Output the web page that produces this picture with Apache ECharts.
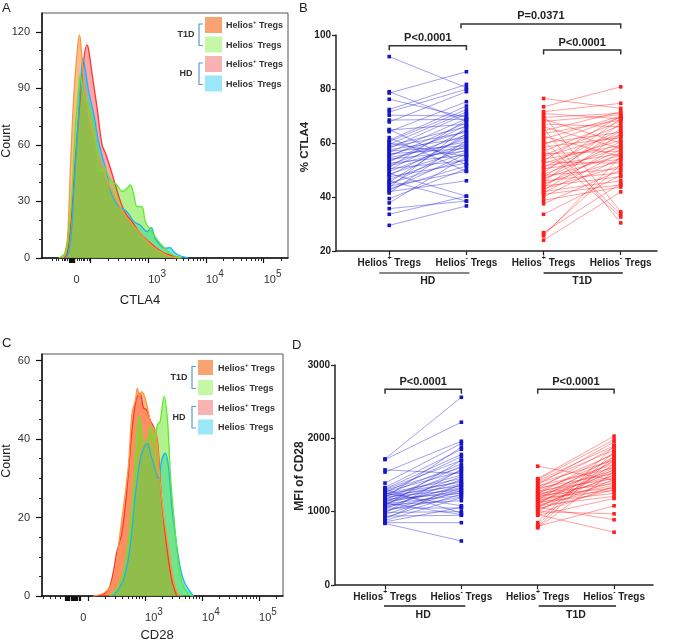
<!DOCTYPE html>
<html><head><meta charset="utf-8">
<script src="https://cdn.jsdelivr.net/npm/echarts@6/dist/echarts.min.js"></script>
<style>html,body{margin:0;padding:0;background:#fff}#c{width:674px;height:642px}</style>
</head><body><div id="c"></div>
<script>
// ---------------- DATA ----------------
// Panel A histograms (CTLA4): [biexponential axis position, count]
const ctlaHDPos = [[1.55,0],[1.60,3],[1.655,17],[1.74,53],[1.83,88],[1.885,106],[1.94,113.1],[1.97,110],[2.03,97],[2.115,79.5],[2.20,60],[2.26,55.6],[2.345,47.6],[2.43,38.8],[2.52,29.9],[2.62,23],[2.72,19.3],[2.86,13],[3.01,8.7],[3.15,5],[3.29,2.5],[3.45,0.8],[3.58,0]];
const ctlaHDNeg = [[1.58,0],[1.63,4],[1.68,17],[1.71,35.2],[1.76,60],[1.80,79.5],[1.84,98],[1.87,106],[1.91,100],[1.97,88.3],[2.06,75.9],[2.14,61.8],[2.26,47.6],[2.37,33.5],[2.49,27.3],[2.63,24.6],[2.75,19.3],[2.86,17.5],[2.98,14.0],[3.05,16.1],[3.12,10.4],[3.20,7],[3.29,5.1],[3.38,5.5],[3.45,3],[3.52,1.6],[3.69,0]];
const ctlaT1DPos = [[1.50,0],[1.54,1],[1.60,10],[1.655,50],[1.71,86],[1.77,110],[1.81,118.4],[1.85,107],[1.88,95],[1.94,84],[1.97,76],[2.03,68],[2.14,55],[2.23,46],[2.32,39],[2.43,32],[2.55,25],[2.69,19],[2.83,14],[2.98,9],[3.12,5],[3.29,2],[3.41,0.5],[3.55,0]];
const ctlaT1DNeg = [[1.45,0],[1.57,3],[1.63,15],[1.68,35.2],[1.74,70.6],[1.79,88.3],[1.82,97.2],[1.85,92],[1.87,88],[1.91,83.9],[1.94,83],[2.03,74.2],[2.115,56.5],[2.17,45.8],[2.23,48.5],[2.29,45],[2.37,40.5],[2.46,38.8],[2.55,35.2],[2.63,37],[2.69,38.8],[2.75,33.5],[2.805,27.3],[2.89,27.3],[2.95,19.3],[3.06,14.0],[3.18,8.7],[3.35,3.4],[3.45,1.2],[3.58,0]];
// Panel C histograms (CD28)
const cd28HDPos = [[2.2,0],[2.35,1.5],[2.44,6],[2.50,11],[2.59,16],[2.68,27],[2.77,42.3],[2.842,50.0],[2.91,51.7],[2.97,48],[3.03,47.4],[3.088,44.9],[3.175,42.3],[3.222,38.9],[3.29,24.5],[3.38,12.6],[3.468,4.1],[3.556,0]];
const cd28HDNeg = [[2.44,0],[2.62,4.1],[2.737,12.6],[2.825,25.3],[2.912,34.7],[2.97,37.5],[3.04,38.9],[3.10,36],[3.146,33.8],[3.234,30.0],[3.292,34.7],[3.351,36.4],[3.409,33.0],[3.468,22.8],[3.526,16.0],[3.614,7.5],[3.70,3.2],[3.85,0]];
const cd28T1DPos = [[2.09,0],[2.27,0.7],[2.39,2.4],[2.47,5.8],[2.56,16],[2.65,26],[2.71,33.8],[2.77,46.6],[2.83,50],[2.865,53.0],[2.90,51],[2.94,52.1],[3.0,50.4],[3.06,46.6],[3.12,43.2],[3.175,42.3],[3.22,38],[3.26,29.6],[3.32,21.1],[3.38,15.1],[3.44,9],[3.50,4],[3.56,1],[3.62,0]];
const cd28T1DNeg = [[2.386,0],[2.53,2.4],[2.65,8.3],[2.77,22.8],[2.825,33.8],[2.895,45.7],[2.94,42],[2.97,39.4],[3.03,39.4],[3.10,43.2],[3.158,39.4],[3.216,43.6],[3.263,44.5],[3.333,50.9],[3.392,44.9],[3.45,29.6],[3.526,16.8],[3.585,8.3],[3.672,2.4],[3.789,0.25],[3.85,0]];

// Paired data: [Helios+ Tregs, Helios- Tregs]
const ctla4HD = [[92.0,80.5],[79.0,68.0],[78.5,86.4],[76.2,69.5],[72.4,81.7],[71.5,79.9],[70.3,70.0],[68.5,68.8],[67.8,79.0],[64.8,67.0],[64.2,75.3],[62.0,49.5],[61.0,73.7],[60.5,72.4],[60.0,55.0],[59.5,71.5],[59.0,66.0],[58.5,64.0],[58.0,70.8],[57.5,62.0],[57.0,59.0],[56.5,69.0],[56.0,58.0],[55.5,64.5],[55.0,67.5],[54.5,60.5],[54.0,57.0],[53.5,63.0],[53.0,66.5],[52.5,55.5],[52.0,61.5],[51.5,58.5],[51.0,68.5],[50.5,53.5],[50.0,65.0],[49.5,60.0],[48.8,40.3],[48.5,57.5],[48.0,62.5],[47.5,52.5],[46.5,56.5],[46.0,38.5],[45.5,63.5],[45.0,54.0],[44.5,59.5],[44.0,49.5],[43.5,66.0],[43.0,51.5],[42.5,56.0],[42.0,46.0],[41.5,61.0],[39.4,50.5],[37.8,55.0],[35.7,38.5],[33.6,40.3],[29.5,36.7],[65.0,52.0]];
const ctla4T1D = [[76.5,72.8],[73.4,80.8],[71.6,74.7],[70.9,69.0],[70.3,34.5],[69.5,71.0],[68.8,60.0],[68.0,70.5],[67.0,66.0],[66.0,58.0],[65.5,30.4],[64.5,71.6],[63.5,68.5],[62.5,55.0],[61.5,70.0],[61.0,33.6],[60.0,64.0],[59.5,69.5],[58.5,62.0],[58.0,32.6],[57.0,68.0],[56.0,57.0],[55.5,66.5],[55.0,63.0],[54.0,59.0],[53.5,70.0],[53.0,52.5],[52.5,61.0],[51.5,56.0],[51.0,65.0],[50.5,54.0],[50.0,62.5],[49.0,69.0],[48.5,58.5],[48.0,50.5],[47.5,64.5],[47.0,55.5],[46.5,60.5],[46.0,49.0],[45.5,67.5],[45.0,53.5],[44.5,57.5],[44.0,47.5],[43.5,63.5],[43.0,51.5],[42.5,59.5],[42.0,46.0],[41.5,56.5],[41.0,44.5],[40.0,54.5],[38.8,43.7],[37.5,50.0],[33.6,48.0],[26.8,45.0],[26.2,52.0],[25.6,55.0],[24.0,41.9]];
const cd28HD = [[1720,2560],[1710,2220],[1570,1520],[1540,1960],[1390,1930],[1330,1850],[1310,1780],[1300,1700],[1290,1600],[1270,1550],[1260,1750],[1250,1450],[1240,1400],[1230,1650],[1220,1350],[1210,1500],[1200,1300],[1190,1880],[1180,1420],[1170,1250],[1160,1620],[1150,1380],[1140,1280],[1130,1560],[1120,1330],[1110,1220],[1100,1480],[1090,1150],[1080,1700],[1070,1360],[1060,1260],[1050,1050],[1040,1440],[1020,1200],[1000,1320],[990,1000],[980,1580],[960,1290],[940,950],[920,1240],[900,1380],[880,1190],[860,1060],[850,850],[840,600],[1300,980],[1250,1080],[1120,960]];
const cd28T1D = [[1620,1430],[1450,2030],[1440,1980],[1420,1900],[1400,1840],[1390,1700],[1370,1950],[1350,1600],[1340,1780],[1320,1520],[1310,1880],[1300,1650],[1280,1450],[1270,1720],[1260,1560],[1250,1380],[1240,1800],[1230,1490],[1220,1320],[1210,1680],[1200,1420],[1190,1620],[1180,1290],[1170,1540],[1160,1750],[1150,1360],[1140,1470],[1130,1250],[1120,1600],[1110,1400],[1100,1700],[1090,1330],[1080,1210],[1070,1500],[1060,890],[1050,1580],[1040,1300],[1020,1440],[1000,970],[990,1650],[970,1350],[960,720],[950,1180],[850,1900],[820,1820],[800,1080],[790,1760],[780,1550]];

// Text / tick labels
const groups = ['HD', 'T1D'];
const cellTypes = ['Helios+ Tregs', 'Helios- Tregs'];
const legendRows = ['Helios+ Tregs', 'Helios- Tregs', 'Helios+ Tregs', 'Helios- Tregs'];
const legendGroups = ['T1D', 'HD'];
const flowTickLabels = ['0', '10^3', '10^4', '10^5'];
const countTicksA = [0, 30, 60, 90, 120];
const countTicksC = [0, 20, 40, 60];
const ctla4Tests = ['P<0.0001', 'P<0.0001', 'P=0.0371'];
const cd28Tests = ['P<0.0001', 'P<0.0001'];

// ---------------- CHART ----------------
const FONT = "'Liberation Sans', Arial, Helvetica, sans-serif";
const chart = echarts.init(document.getElementById('c'), null, {renderer: 'canvas'});

const histColors = {
  hdPos:  {line: '#FF3535', fill: 'rgba(255,80,80,0.5)'},
  hdNeg:  {line: '#1EB4F2', fill: 'rgba(0,200,255,0.5)'},
  t1dPos: {line: '#F59A40', fill: 'rgba(255,120,30,0.5)'},
  t1dNeg: {line: '#5CEB2A', fill: 'rgba(100,230,30,0.5)'}
};
const legendBoxColors = ['#F9A272', '#C4F7A6', '#F9B2B2', '#9CE6FA'];

function histSeries(data, xi, yi, c) {
  return {type: 'line', xAxisIndex: xi, yAxisIndex: yi, data: data, smooth: 0.35, symbol: 'none',
    lineStyle: {color: c.line, width: 1.3}, areaStyle: {color: c.fill, opacity: 1},
    itemStyle: {color: c.line}, silent: true, z: 2};
}

function logMinor(from, to) {
  const out = [];
  for (let d = from; d < to; d++) for (let k = 2; k <= 9; k++) out.push(d + Math.log10(k));
  return out;
}
const majorTicksA = [1.64,1.65,1.66,1.67,1.68,1.69,1.70,1.71,1.72, 2, 3, 4, 5];
const minorTicksA = [1.34,1.40,1.45,1.51,1.54,1.57,1.60,1.77,1.81,1.84,1.87,1.90,1.94,1.97].concat(logMinor(2,5)).concat([5.30]);
const majorTicksC = [1.60,1.61,1.62,1.63,1.64,1.65,1.66,1.70,1.71,1.72,1.73,1.76,1.77,1.78,1.79,1.80,1.84,1.85,1.86, 2, 3, 4, 5];
const minorTicksC = [1.21,1.33,1.42,1.51].concat(logMinor(2,5)).concat([5.30]);
const labelPosA = [1.707, 3, 4, 5];
const labelPosC = [1.86, 3, 4, 5];

function flowFormatter(pos) {
  return function (v) {
    let best = 0;
    pos.forEach((p, i) => { if (Math.abs(p - v) < Math.abs(pos[best] - v)) best = i; });
    const s = flowTickLabels[best];
    if (s.indexOf('^') < 0) return '{n|' + s + '}';
    const parts = s.split('^');
    return '{n|' + parts[0] + '}{e|' + parts[1] + '}';
  };
}
const flowRich = {
  n: {fontSize: 11, color: '#333', fontFamily: FONT, lineHeight: 16, verticalAlign: 'bottom'},
  e: {fontSize: 10, color: '#333', fontFamily: FONT, lineHeight: 10, verticalAlign: 'top'}
};
function supText(s) {
  const m = s.match(/^(\S+?)([+-])(.*)$/);
  return '{a|' + m[1] + '}{s|' + m[2] + '}{a|' + m[3] + '}';
}
const catRich = {
  a: {fontSize: 10, fontWeight: 'bold', color: '#222', fontFamily: FONT, lineHeight: 13, verticalAlign: 'bottom'},
  s: {fontSize: 7, fontWeight: 'bold', color: '#222', fontFamily: FONT, lineHeight: 7, verticalAlign: 'top'}
};

function flowXAxis(grid, min, max, major, labelPos) {
  return {gridIndex: grid, type: 'value', position: 'bottom', min: min, max: max,
    axisLine: {show: true, onZero: false, lineStyle: {color: '#111', width: 1.5}},
    axisTick: {show: true, customValues: major, length: 5, lineStyle: {color: '#111', width: 1.2}},
    axisLabel: {show: true, customValues: labelPos, formatter: flowFormatter(labelPos), align: 'left', margin: 11, rich: flowRich},
    splitLine: {show: false}};
}
function minorXAxis(grid, min, max, minor) {
  return {gridIndex: grid, type: 'value', position: 'bottom', min: min, max: max,
    axisLine: {show: false},
    axisTick: {show: true, customValues: minor, length: 3, lineStyle: {color: '#222', width: 1}},
    axisLabel: {show: false}, splitLine: {show: false}};
}
function countYAxis(grid, max, major) {
  return {gridIndex: grid, type: 'value', position: 'left', min: 0, max: max,
    axisLine: {show: true, onZero: false, lineStyle: {color: '#111', width: 1.5}},
    axisTick: {show: true, customValues: major, length: 6, lineStyle: {color: '#111', width: 1.2}},
    axisLabel: {show: true, customValues: major, fontSize: 11, color: '#333', fontFamily: FONT, margin: 12},
    splitLine: {show: false}};
}
function minorYAxis(grid, max, major, step) {
  const minor = [];
  for (let v = step; v < max; v += step) if (major.indexOf(v) < 0) minor.push(v);
  return {gridIndex: grid, type: 'value', position: 'left', min: 0, max: max,
    axisLine: {show: false},
    axisTick: {show: true, customValues: minor, length: 3, lineStyle: {color: '#222', width: 1}},
    axisLabel: {show: false}, splitLine: {show: false}};
}
function pairXAxis(grid, min, max) {
  return {gridIndex: grid, type: 'value', position: 'bottom', min: min, max: max,
    axisLine: {show: true, onZero: false, lineStyle: {color: '#222', width: 1.5}},
    axisTick: {show: true, customValues: [1, 2, 3, 4], length: 4, lineStyle: {color: '#222', width: 1.2}},
    axisLabel: {show: true, customValues: [1, 2, 3, 4], margin: 4, rich: catRich,
      formatter: function (v) { return supText(cellTypes[(Math.round(v) - 1) % 2]); }},
    splitLine: {show: false}};
}
function pairYAxis(grid, min, max, interval) {
  return {gridIndex: grid, type: 'value', position: 'left', min: min, max: max, interval: interval,
    axisLine: {show: true, onZero: false, lineStyle: {color: '#222', width: 1.5}},
    axisTick: {show: true, length: 4, lineStyle: {color: '#222', width: 1.2}},
    axisLabel: {fontSize: 10, fontWeight: 'bold', color: '#222', fontFamily: FONT, margin: 5,
      formatter: function (v) { return String(v); }},
    splitLine: {show: false}};
}

function pairLineSeries(pairs, xi, yi, x1, x2, color) {
  return {type: 'custom', xAxisIndex: xi, yAxisIndex: yi, silent: true, z: 3,
    data: pairs.map(p => [x1, x2, p[0], p[1]]),
    encode: {x: [0, 1], y: [2, 3]},
    renderItem: function (params, api) {
      const a = api.coord([api.value(0), api.value(2)]);
      const b = api.coord([api.value(1), api.value(3)]);
      return {type: 'line', shape: {x1: a[0], y1: a[1], x2: b[0], y2: b[1]},
        style: {stroke: color, lineWidth: 0.8, fill: 'none'}};
    }};
}
function pairPointSeries(pairs, xi, yi, x1, x2, color) {
  const data = [];
  pairs.forEach(p => { data.push([x1, p[0]]); data.push([x2, p[1]]); });
  return {type: 'scatter', xAxisIndex: xi, yAxisIndex: yi, silent: true, z: 4,
    data: data, symbol: 'rect', symbolSize: 3.6, itemStyle: {color: color, opacity: 1}};
}
function bracketSeries(items, labels, xi, yi) {
  return {type: 'custom', xAxisIndex: xi, yAxisIndex: yi, silent: true, clip: false, z: 5,
    data: items, encode: {x: [0, 1], y: 2},
    renderItem: function (params, api) {
      const a = api.coord([api.value(0), api.value(2)]);
      const b = api.coord([api.value(1), api.value(2)]);
      return {type: 'group', children: [
        {type: 'polyline', shape: {points: [[a[0], a[1] + 4.5], [a[0], a[1]], [b[0], b[1]], [b[0], b[1] + 4.5]]},
          style: {stroke: '#333', lineWidth: 1.5, fill: 'none'}},
        {type: 'text', x: (a[0] + b[0]) / 2, y: a[1] - 7.5,
          style: {text: labels[api.value(3)], font: 'bold 11px ' + FONT, fill: '#222', align: 'center', verticalAlign: 'middle'}}
      ]};
    }};
}
function groupSeries(xi, yi, yBase, styles) {
  return {type: 'custom', xAxisIndex: xi, yAxisIndex: yi, silent: true, clip: false, z: 5,
    data: [[1, 2, 0], [3, 4, 1]], encode: {x: [0, 1]},
    renderItem: function (params, api) {
      const g = api.value(2);
      const st = styles[g];
      const a = api.coord([api.value(0), yBase]);
      const b = api.coord([api.value(1), yBase]);
      return {type: 'group', children: [
        {type: 'line', shape: {x1: a[0] + st.dl, y1: a[1] + st.ly, x2: b[0] + st.dr, y2: a[1] + st.ly},
          style: {stroke: st.color, lineWidth: st.width}},
        {type: 'text', x: (a[0] + b[0]) / 2, y: a[1] + st.ty,
          style: {text: groups[g], font: 'bold 10.5px ' + FONT, fill: '#222', align: 'center', verticalAlign: 'middle'}}
      ]};
    }};
}

// ---------------- graphics ----------------
const graphics = [];
function addText(x, y, text, font, opts) {
  graphics.push(Object.assign({type: 'text', x: x, y: y, silent: true,
    style: Object.assign({text: text, font: font, fill: '#222', align: 'left', verticalAlign: 'top'}, opts && opts.style || {})},
    opts && opts.el || {}));
}
addText(2, 2, 'A', '13px ' + FONT);
addText(299, 2, 'B', '13px ' + FONT);
addText(2, 337, 'C', '13px ' + FONT);
addText(292, 339, 'D', '13px ' + FONT);
addText(7, 141, 'Count', '12.5px ' + FONT, {style: {align: 'center', verticalAlign: 'middle'}, el: {rotation: Math.PI / 2}});
addText(140, 300, 'CTLA4', '13px ' + FONT, {style: {align: 'center', verticalAlign: 'middle'}});
addText(7, 461, 'Count', '12.5px ' + FONT, {style: {align: 'center', verticalAlign: 'middle'}, el: {rotation: Math.PI / 2}});
addText(157, 635, 'CD28', '13px ' + FONT, {style: {align: 'center', verticalAlign: 'middle'}});
addText(305, 147, '% CTLA4', 'bold 11.5px ' + FONT, {style: {align: 'center', verticalAlign: 'middle'}, el: {rotation: Math.PI / 2}});
addText(300, 476, 'MFI of CD28', 'bold 12px ' + FONT, {style: {align: 'center', verticalAlign: 'middle'}, el: {rotation: Math.PI / 2}});

const legRich = {
  a: {fontSize: 9, fontWeight: 'bold', fill: '#333', color: '#333', fontFamily: FONT, lineHeight: 11, verticalAlign: 'bottom'},
  s: {fontSize: 6, fontWeight: 'bold', fill: '#333', color: '#333', fontFamily: FONT, lineHeight: 6, verticalAlign: 'top'}
};
function addLegend(L) {
  legendRows.forEach((lab, i) => {
    graphics.push({type: 'rect', silent: true, shape: {x: L.boxX, y: L.tops[i], width: L.boxW, height: L.boxH},
      style: {fill: legendBoxColors[i]}});
    graphics.push({type: 'text', silent: true, x: L.textX, y: L.tops[i] + L.boxH / 2,
      style: {text: supText(lab), rich: legRich, align: 'left', verticalAlign: 'middle'}});
  });
  legendGroups.forEach((g, k) => {
    const y1 = L.tops[2 * k] + L.boxH / 2 - 1, y2 = L.tops[2 * k + 1] + L.boxH / 2 + 1;
    graphics.push({type: 'polyline', silent: true,
      shape: {points: [[L.bracketX + 4, y1], [L.bracketX, y1], [L.bracketX, y2], [L.bracketX + 4, y2]]},
      style: {stroke: '#5B9BD5', lineWidth: 1.2, fill: 'none'}});
    graphics.push({type: 'text', silent: true, x: L.groupX, y: (y1 + y2) / 2,
      style: {text: g, font: 'bold 9px ' + FONT, fill: '#333', align: 'center', verticalAlign: 'middle'}});
  });
}
addLegend({boxX: 205, boxW: 17, boxH: 16, tops: [17, 36.5, 56, 75.5], textX: 226, bracketX: 199, groupX: 186});
addLegend({boxX: 198, boxW: 15, boxH: 15, tops: [360, 380, 400, 419.5], textX: 218, bracketX: 192, groupX: 179});

// ---------------- option ----------------
const gridA = {left: 42, top: 13, width: 246, height: 245};
const gridC = {left: 42, top: 354, width: 241, height: 242};
const option = {
  animation: false,
  textStyle: {fontFamily: FONT},
  grid: [
    Object.assign({show: true, borderColor: '#555', borderWidth: 1}, gridA),   // 0 A
    {left: 336, top: 35, width: 321, height: 216},                               // 1 B
    Object.assign({show: true, borderColor: '#555', borderWidth: 1}, gridC),   // 2 C
    {left: 335, top: 365, width: 318, height: 220},                              // 3 D
    Object.assign({}, gridA),                                                    // 4 A minor ticks
    Object.assign({}, gridC)                                                     // 5 C minor ticks
  ],
  xAxis: [
    flowXAxis(0, 1.16, 5.42, majorTicksA, labelPosA),   // 0
    pairXAxis(1, 0.31, 4.47),                            // 1
    flowXAxis(2, 1.19, 5.42, majorTicksC, labelPosC),   // 2
    pairXAxis(3, 0.345, 4.51),                           // 3
    minorXAxis(4, 1.16, 5.42, minorTicksA),             // 4
    minorXAxis(5, 1.19, 5.42, minorTicksC)              // 5
  ],
  yAxis: [
    countYAxis(0, 130, countTicksA),        // 0
    pairYAxis(1, 20, 100, 20),              // 1
    countYAxis(2, 61.7, countTicksC),       // 2
    pairYAxis(3, 0, 3000, 1000),            // 3
    minorYAxis(4, 130, countTicksA, 10),    // 4
    minorYAxis(5, 61.7, countTicksC, 5)     // 5
  ],
  series: [
    histSeries(ctlaHDPos, 0, 0, histColors.hdPos),
    histSeries(ctlaHDNeg, 0, 0, histColors.hdNeg),
    histSeries(ctlaT1DPos, 0, 0, histColors.t1dPos),
    histSeries(ctlaT1DNeg, 0, 0, histColors.t1dNeg),
    histSeries(cd28HDPos, 2, 2, histColors.hdPos),
    histSeries(cd28HDNeg, 2, 2, histColors.hdNeg),
    histSeries(cd28T1DPos, 2, 2, histColors.t1dPos),
    histSeries(cd28T1DNeg, 2, 2, histColors.t1dNeg),

    pairLineSeries(ctla4HD, 1, 1, 1, 2, 'rgba(40,40,215,0.55)'),
    pairLineSeries(ctla4T1D, 1, 1, 3, 4, 'rgba(255,40,40,0.55)'),
    pairPointSeries(ctla4HD, 1, 1, 1, 2, '#1616C6'),
    pairPointSeries(ctla4T1D, 1, 1, 3, 4, '#FF1F1F'),
    bracketSeries([[1, 2, 96.0, 0], [3, 4, 94.4, 1], [1.93, 4, 104.1, 2]], ctla4Tests, 1, 1),
    groupSeries(1, 1, 20, [
      {dl: -10, dr: 3, ly: 22, ty: 30.5, color: '#888', width: 2.2},
      {dl: 0, dr: 2, ly: 22, ty: 30.5, color: '#222', width: 1.3}]),

    pairLineSeries(cd28HD, 3, 3, 1, 2, 'rgba(40,40,215,0.55)'),
    pairLineSeries(cd28T1D, 3, 3, 3, 4, 'rgba(255,40,40,0.55)'),
    pairPointSeries(cd28HD, 3, 3, 1, 2, '#1616C6'),
    pairPointSeries(cd28T1D, 3, 3, 3, 4, '#FF1F1F'),
    bracketSeries([[1, 2, 2669, 0], [3, 4, 2669, 1]], cd28Tests, 3, 3),
    groupSeries(3, 3, 0, [
      {dl: -1, dr: 4, ly: 21, ty: 30, color: '#222', width: 1.3},
      {dl: 1, dr: 2, ly: 21, ty: 30, color: '#222', width: 1.3}])
  ],
  graphic: graphics
};
chart.setOption(option);
</script></body></html>
